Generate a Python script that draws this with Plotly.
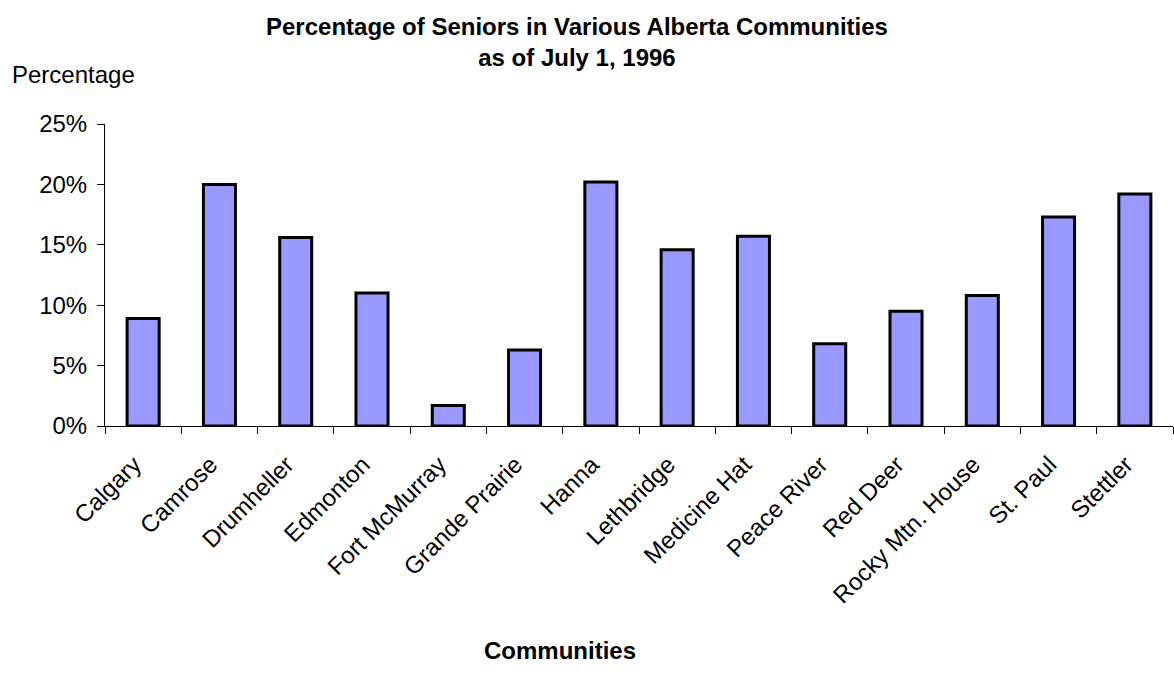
import plotly.graph_objects as go

communities = ["Calgary", "Camrose", "Drumheller", "Edmonton", "Fort McMurray",
               "Grande Prairie", "Hanna", "Lethbridge", "Medicine Hat", "Peace River",
               "Red Deer", "Rocky Mtn. House", "St. Paul", "Stettler"]
percent_seniors = [8.9, 20.0, 15.6, 11.0, 1.7, 6.3, 20.2, 14.6, 15.7, 6.8, 9.5, 10.8, 17.3, 19.2]
y_ticks = [0, 5, 10, 15, 20, 25]

FONT = "Arial, Liberation Sans, sans-serif"
FS = 24

fig = go.Figure(go.Bar(
    x=communities, y=percent_seniors,
    marker=dict(color="#9999FF", line=dict(color="black", width=3)),
    width=0.42,
))

L, R, T, B = 105, 1, 124, 253
W, H = 1174, 679
pw, ph = W - L - R, H - T - B

fig.update_layout(
    width=W, height=H,
    margin=dict(l=L, r=R, t=T, b=B),
    paper_bgcolor="white", plot_bgcolor="white",
    font=dict(family=FONT, size=FS, color="black"),
    showlegend=False,
    xaxis=dict(
        type="category", tickangle=-45, tickson="boundaries",
        ticks="outside", ticklen=7, tickcolor="black", tickwidth=1,
        showline=True, linecolor="black", linewidth=1,
        showgrid=False, tickfont=dict(size=FS), ticklabelstandoff=14,
        ticklabelshift=-9,
    ),
    yaxis=dict(
        range=[0, 25], tickvals=y_ticks, ticktext=[f"{v}%" for v in y_ticks],
        ticks="outside", ticklen=7, tickcolor="black", tickwidth=1,
        showline=True, linecolor="black", linewidth=1,
        showgrid=False, zeroline=False, tickfont=dict(size=FS), ticklabelstandoff=5,
    ),
    annotations=[
        dict(text="<b>Percentage of Seniors in Various Alberta Communities</b><br><b>as of July 1, 1996</b>",
             xref="paper", yref="paper", x=(577 - L) / pw, y=(H - B - 42) / ph,
             xanchor="center", yanchor="middle", showarrow=False,
             font=dict(size=FS, family=FONT)),
        dict(text="Percentage", xref="paper", yref="paper",
             x=(10 - L) / pw, y=(H - B - 75) / ph,
             xanchor="left", yanchor="middle", showarrow=False,
             font=dict(size=FS, family=FONT)),
        dict(text="<b>Communities</b>", xref="paper", yref="paper",
             x=(560 - L) / pw, y=(H - B - 650) / ph,
             xanchor="center", yanchor="middle", showarrow=False,
             font=dict(size=FS, family=FONT)),
    ],
)

fig.write_html("out.html")
